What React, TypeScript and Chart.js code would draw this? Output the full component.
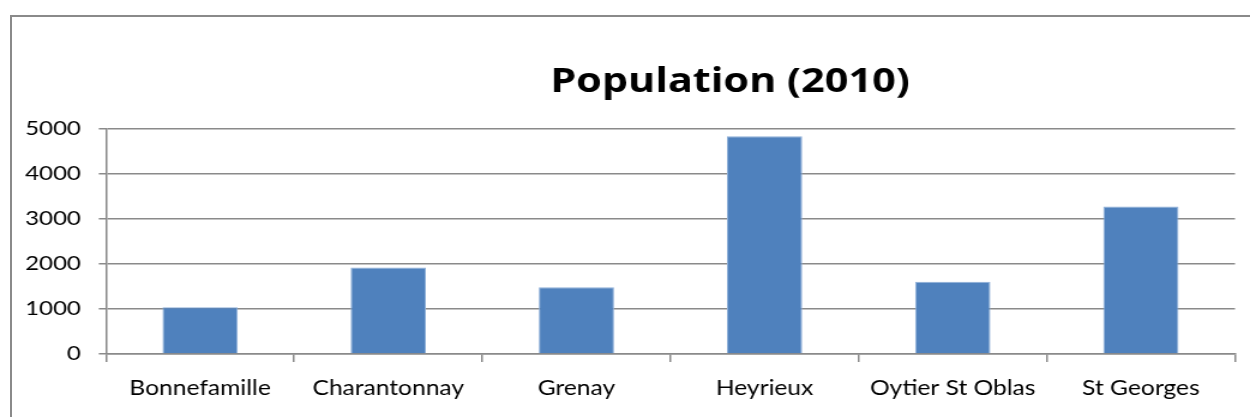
import React, { useEffect, useRef } from "react";
import { Chart, registerables } from "chart.js";

Chart.register(...registerables);

const categories = [
  "Bonnefamille",
  "Charantonnay",
  "Grenay",
  "Heyrieux",
  "Oytier St Oblas",
  "St Georges",
];
const population = [1035, 1920, 1480, 4830, 1600, 3270];
const yMin = 0;
const yMax = 5000;
const yStep = 1000;
const titleText = "Population (2010)";

const CSS_W = 1250;
const CSS_H = 417;
const CANVAS_W = 1042;
const K = CSS_W / CANVAS_W;

export default function App() {
  const ref = useRef<HTMLCanvasElement | null>(null);

  useEffect(() => {
    if (!ref.current) return;
    const gray = "#8a8a8a";
    const titleShift = {
      id: "titleShift",
      afterLayout(chart: any) {
        const tb = chart.titleBlock;
        if (!tb) return;
        const target = 730 / K;
        const cur = (tb.left + tb.right) / 2;
        const dx = target - cur;
        tb.left += dx;
        tb.right += dx;
      },
    };
    const chart = new Chart(ref.current, {
      type: "bar",
      data: {
        labels: categories,
        datasets: [
          {
            label: "Population",
            data: population,
            backgroundColor: "#4F81BD",
            borderColor: "#8fb0d9",
            borderWidth: 1,
            barPercentage: 0.4,
            categoryPercentage: 1,
          },
        ],
      },
      options: {
        animation: false,
        responsive: false,
        devicePixelRatio: 1,
        layout: { padding: { left: 0, right: CANVAS_W - 1235 / K, top: 0, bottom: 0 } },
        plugins: {
          legend: { display: false },
          tooltip: { enabled: false },
          title: {
            display: true,
            text: titleText,
            color: "#000",
            font: { family: "'Open Sans'", weight: "bold", size: 34.5, lineHeight: 1.2 },
            padding: { top: 61, bottom: 26.1 },
          },
        },
        scales: {
          x: {
            grid: {
              display: true,
              drawOnChartArea: false,
              drawTicks: true,
              tickLength: 8,
              color: gray,
              lineWidth: 1.5,
              offset: true,
            },
            border: { display: true, color: gray, width: 1.5 },
            ticks: {
              color: "#000",
              font: { family: "Lato", size: 20.5, lineHeight: 1.2 },
              padding: 14,
              maxRotation: 0,
              autoSkip: false,
            },
            afterFit(scale: any) {
              scale.height = CSS_H - 354;
            },
          },
          y: {
            min: yMin,
            max: yMax,
            grid: {
              color: gray,
              lineWidth: 1.5,
              drawTicks: true,
              tickLength: 6,
            },
            border: { display: true, color: gray, width: 1.5 },
            ticks: {
              stepSize: yStep,
              color: "#000",
              font: { family: "Lato", size: 20, lineHeight: 1.2 },
              padding: 15,
              callback: (v: any) => String(v),
            },
            afterFit(scale: any) {
              scale.width = 106 / K;
            },
          },
        },
      },
      plugins: [titleShift],
    });
    return () => chart.destroy();
  }, []);

  return (
    <div
      style={{
        position: "fixed",
        left: 0,
        top: 0,
        width: CSS_W,
        height: CSS_H,
        overflow: "hidden",
        background: "#fff",
      }}
    >
      <div
        style={{
          position: "absolute",
          left: 10,
          top: 15,
          width: 1400,
          height: 600,
          border: "2px solid #8a8a8a",
        }}
      />
      <canvas
        ref={ref}
        width={CANVAS_W}
        height={CSS_H}
        style={{
          position: "absolute",
          left: 0,
          top: 0,
          width: CSS_W + "px",
          height: CSS_H + "px",
          display: "block",
        }}
      />
    </div>
  );
}
